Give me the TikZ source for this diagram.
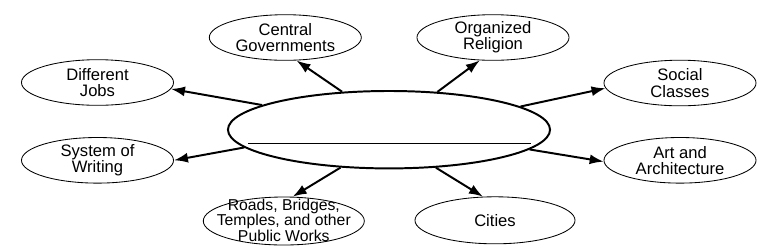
\documentclass[tikz,border=0pt]{standalone}
\usepackage{fontspec}
\setmainfont{Liberation Sans}
\usetikzlibrary{arrows.meta,shapes.geometric}

\begin{document}
\begin{tikzpicture}[
    x=0.025cm, y=-0.025cm,
    >={Latex[length=3.5mm,width=2.5mm]},
    font=\fontsize{11.8}{11.6}\selectfont,
    hub/.style={draw, ellipse, line width=1.4pt, inner sep=0pt, minimum width=8.05cm, minimum height=1.935cm},
    bubble/.style={draw, ellipse, line width=0.6pt, inner sep=0pt, minimum width=3.8cm, minimum height=1.14cm},
    txt/.style={align=center, inner sep=0pt},
    link/.style={->, line width=1.4pt},
  ]
  \useasboundingbox (0,0) rectangle (777,246);
  % centre
  \node[hub] (civ) at (389,129.7) {};
  \draw[line width=0.7pt] ([shift={(-141,13.6)}]civ.center) -- ([shift={(141.7,13.6)}]civ.center);
  % left side
  \node[bubble, label={[txt]center:Central\\Governments}] (gov) at (285.3,37.5) {};
  \node[bubble, label={[txt]center:Different\\Jobs}] (jobs) at (97.5,82.5) {};
  \node[bubble, label={[txt]center:System of\\Writing}] (writ) at (97.5,160.3) {};
  \node[bubble, minimum width=4.025cm, minimum height=1.2cm,
        label={[txt, font=\fontsize{11.2}{11}\selectfont, yshift=0.5pt]center:Roads, Bridges,\\Temples, and other\\Public Works}] (works) at (283.8,221) {};
  % right side
  \node[bubble, label={[txt]center:Organized\\Religion}] (rel) at (493,37.5) {};
  \node[bubble, label={[txt]center:Social\\Classes}] (soc) at (680,83) {};
  \node[bubble, label={[txt]center:Art and\\Architecture}] (art) at (680,160.3) {};
  \node[bubble, minimum width=4cm, minimum height=1.175cm, label={[txt]center:Cities}] (city) at (495,220.3) {};
  % arrows
  \draw[link] (civ.141) -- (gov.296);
  \draw[link] (civ.169) -- (jobs.355.5);
  \draw[link] (civ.187.4) -- (writ.0);
  \draw[link] (civ.218.8) -- (works.70);
  \draw[link] (civ.38.8) -- (rel.240.6);
  \draw[link] (civ.10.8) -- (soc.184);
  \draw[link] (civ.352.5) -- (art.181);
  \draw[link] (civ.321.2) -- (city.117);
\end{tikzpicture}
\end{document}
